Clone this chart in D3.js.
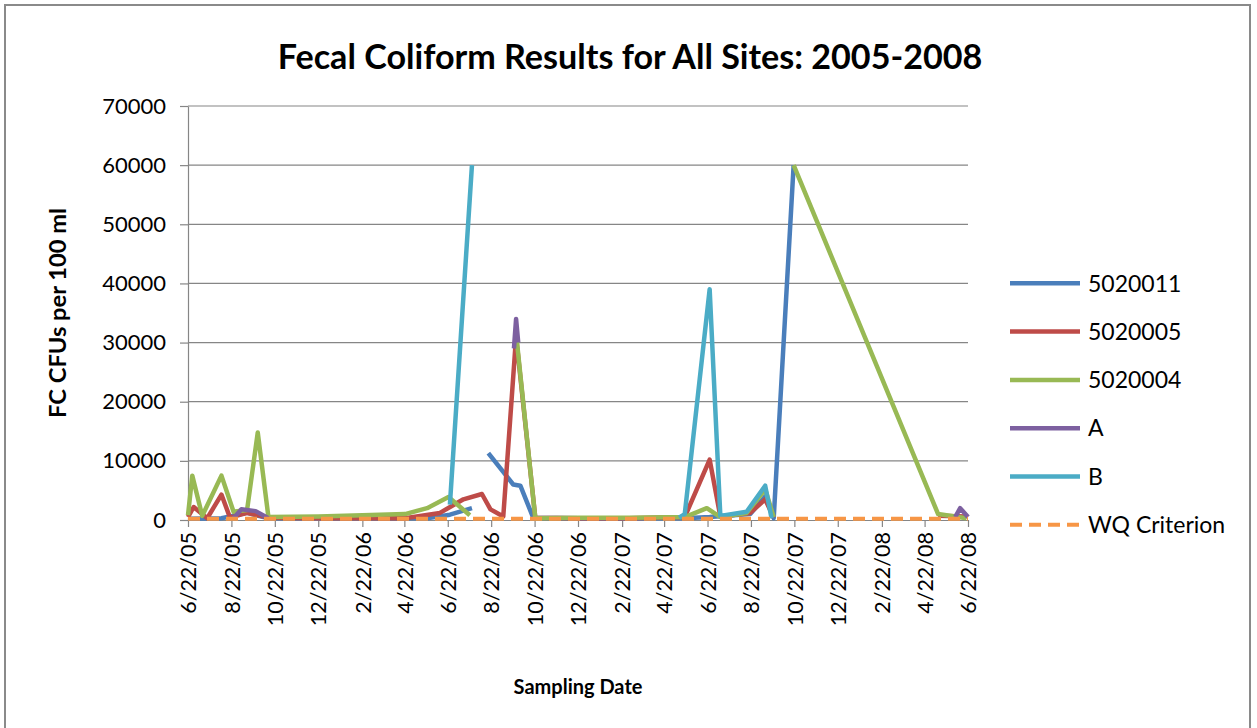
<!DOCTYPE html>
<html><head><meta charset="utf-8">
<script src="https://cdn.jsdelivr.net/npm/d3@7"></script>
<style>
body{margin:0;background:#fff;}
svg{display:block;}
text{font-family:Lato,"Open Sans",sans-serif;fill:#000;}
</style>
</head><body>
<svg id="chart" width="1257" height="728"></svg>
<script>
const chartTitle = "Fecal Coliform Results for All Sites: 2005-2008";
const yTitle = "FC CFUs per 100 ml";
const xTitle = "Sampling Date";
const xTickLabels = ["6/22/05","8/22/05","10/22/05","12/22/05","2/22/06","4/22/06","6/22/06","8/22/06","10/22/06","12/22/06","2/22/07","4/22/07","6/22/07","8/22/07","10/22/07","12/22/07","2/22/08","4/22/08","6/22/08"];
const yTickValues = [0,10000,20000,30000,40000,50000,60000,70000];
const seriesNames = ["5020011","5020005","5020004","A","B","WQ Criterion"];
const seriesColors = ["#4a7ebb","#be4b48","#98b954","#7d60a0","#4bacc6","#f79646"];

const dates5020011 = ["6/22/05","8/8/05","9/13/05","10/13/05","12/22/05","2/22/06","4/23/06","5/24/06","6/25/06","7/26/06","8/5/06","8/18/06","9/22/06","10/2/06","10/20/06","12/24/06","3/4/07","5/21/07","6/25/07","8/21/07","9/11/07","9/23/07","10/21/07"];
const values5020011 = [200,300,1200,300,300,300,300,300,900,2000,null,11300,6000,5800,400,300,300,300,500,1000,4000,300,60000];

const dates5020005 = ["6/22/05","6/30/05","7/19/05","8/8/05","8/20/05","9/13/05","10/13/05","12/22/05","2/22/06","4/23/06","6/11/06","7/14/06","8/9/06","8/21/06","9/8/06","9/26/06","10/23/06","12/24/06","3/4/07","5/21/07","6/25/07","7/10/07","8/21/07","9/11/07","9/23/07","10/1/07","5/11/08","6/20/08"];
const values5020005 = [500,2200,300,4300,400,1200,400,300,300,300,1200,3500,4400,1800,600,31000,400,300,300,500,10200,600,1200,3500,400,null,700,600];

const dates5020004 = ["6/22/05","6/28/05","7/12/05","8/8/05","8/25/05","9/13/05","9/28/05","10/13/05","12/22/05","2/22/06","4/23/06","5/24/06","6/23/06","7/23/06","8/10/06","9/26/06","10/23/06","12/24/06","3/4/07","5/21/07","6/21/07","7/10/07","8/16/07","9/11/07","9/23/07","10/1/07","10/21/07","5/11/08","6/20/08"];
const values5020004 = [800,7500,700,7500,1400,1700,14800,500,600,800,1000,2000,3900,800,null,31500,300,400,400,500,2000,500,1200,5200,500,null,60000,1000,300];

const datesA = ["8/25/05","9/5/05","9/25/05","10/13/05","11/1/05","9/23/06","9/26/06","9/29/06","10/5/06","6/4/08","6/11/08","6/22/08"];
const valuesA = [300,1800,1500,300,null,29000,34000,30000,null,500,2000,500];

const datesB = ["6/25/06","7/26/06","8/5/06","5/13/07","5/21/07","6/25/07","7/10/07","8/16/07","9/11/07","9/20/07"];
const valuesB = [2600,60000,null,400,1000,39000,700,1400,5800,300];

const datesWQ = ["6/22/05","6/22/08"];
const valuesWQ = [200,200];

const seriesDates = [dates5020011,dates5020005,dates5020004,datesA,datesB,datesWQ];
const seriesValues = [values5020011,values5020005,values5020004,valuesA,valuesB,valuesWQ];

const parse = d3.timeParse("%m/%d/%y");
const svg = d3.select("#chart");
const L = 188, R = 968, T = 106, B = 520;

svg.append("rect").attr("x",5).attr("y",5).attr("width",1245).attr("height",740)
  .attr("fill","#fff").attr("stroke","#8a8a8a").attr("stroke-width",2);

const x = d3.scaleTime().domain([parse(xTickLabels[0]), parse(xTickLabels[xTickLabels.length-1])]).range([L,R]);
const y = d3.scaleLinear().domain([0,70000]).range([B,T]);

// gridlines
svg.append("g").selectAll("line").data(yTickValues.filter(v=>v>0)).join("line")
  .attr("x1",L).attr("x2",R).attr("y1",d=>y(d)).attr("y2",d=>y(d))
  .attr("stroke","#868686").attr("stroke-width",1.2);

// y axis
const ya = svg.append("g").attr("transform",`translate(${L},0)`)
  .call(d3.axisLeft(y).tickValues(yTickValues).tickSizeInner(8).tickSizeOuter(0).tickPadding(14).tickFormat(d=>String(d)));
ya.select(".domain").attr("stroke","#868686").attr("stroke-width",1.2);
ya.selectAll(".tick line").attr("stroke","#868686").attr("stroke-width",1.2);
ya.selectAll(".tick text").style("font-size","22px").style("font-family","Lato").attr("fill","#000");

// x axis
const xa = svg.append("g").attr("transform",`translate(0,${B})`)
  .call(d3.axisBottom(x).tickValues(xTickLabels.map(parse)).tickSizeInner(7).tickSizeOuter(0)
    .tickFormat((d,i)=>xTickLabels[i]));
xa.select(".domain").attr("stroke","#868686").attr("stroke-width",1.2);
xa.selectAll(".tick line").attr("stroke","#868686").attr("stroke-width",1.2);
xa.selectAll(".tick text").style("font-size","21.5px").style("font-family","Lato").attr("fill","#000")
  .attr("transform","rotate(-90)").attr("text-anchor","end").attr("x",-12).attr("y",0).attr("dy","0.36em");

// series
const line = d3.line().defined(d=>d.v!==null).x(d=>x(d.t)).y(d=>y(d.v));
seriesNames.forEach((name,i)=>{
  const pts = seriesDates[i].map((dt,j)=>({t:parse(dt),v:seriesValues[i][j]}));
  const p = svg.append("path").datum(pts).attr("d",line)
    .attr("fill","none").attr("stroke",seriesColors[i]).attr("stroke-width",4.5)
    .attr("stroke-linejoin","round");
  if(name==="WQ Criterion") p.attr("stroke-dasharray","12,7").attr("stroke-width",4);
});

// title
const t = svg.append("text").attr("x",630).attr("y",69).attr("text-anchor","middle")
  .style("font-weight","bold").style("font-size","28px").text(chartTitle);
const tw = t.node().getComputedTextLength();
t.style("font-size",(28*705/tw)+"px");

// axis titles
const yt = svg.append("text").attr("transform","translate(66,313) rotate(-90)").attr("text-anchor","middle")
  .style("font-weight","bold").style("font-size","22px").text(yTitle);
const ytw = yt.node().getComputedTextLength();
yt.style("font-size",(22*210/ytw)+"px");
svg.append("text").attr("x",(L+R)/2).attr("y",694).attr("text-anchor","middle")
  .style("font-weight","bold").style("font-size","20px").text(xTitle);

// legend
const lg = svg.append("g");
seriesNames.forEach((name,i)=>{
  const ly = 283.3 + i*48.3;
  const ln = lg.append("line").attr("x1",1010).attr("x2",1080).attr("y1",ly).attr("y2",ly)
    .attr("stroke",seriesColors[i]).attr("stroke-width",4.5);
  if(name==="WQ Criterion") ln.attr("stroke-dasharray","12,7").attr("stroke-width",4);
  lg.append("text").attr("x",1088).attr("y",ly).attr("dy","0.36em").style("font-size","23px").text(name);
});
</script>
</body></html>
